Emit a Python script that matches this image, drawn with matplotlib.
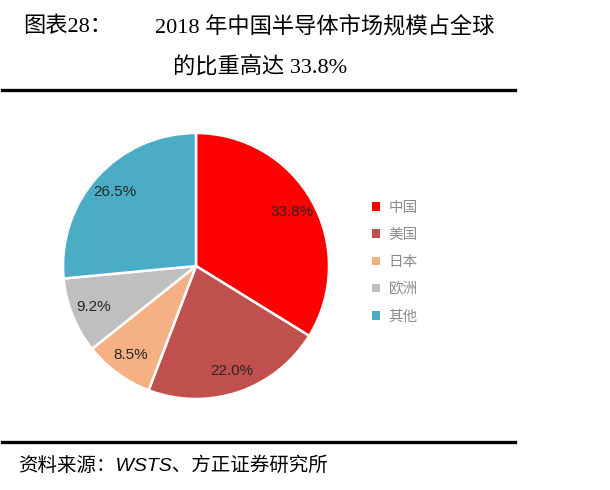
import matplotlib
matplotlib.use("Agg")
import matplotlib.pyplot as plt
from matplotlib.lines import Line2D
from matplotlib.patches import Patch

regions = ["中国", "美国", "日本", "欧洲", "其他"]
shares = [33.8, 22.0, 8.5, 9.2, 26.5]
colors = ["#FF0000", "#C0504D", "#F5B183", "#BFBFBF", "#4BACC6"]

title_line1_head = "图表28："
title_line1 = "2018 年中国半导体市场规模占全球"
title_line2 = "的比重高达 33.8%"
source_text = "资料来源：WSTS、方正证券研究所"

serif_cjk = ["Liberation Serif", "Noto Sans CJK SC"]
sans_cjk = ["Liberation Sans", "Noto Sans CJK SC"]

fig = plt.figure(figsize=(6.1, 4.9), dpi=100)
W, H = 610, 490

# title block
fig.text(23 / W, 1 - 27 / H, title_line1_head, family=serif_cjk, fontsize=16,
         va="center", ha="left")
fig.text(155 / W, 1 - 27 / H, title_line1, family=serif_cjk, fontsize=16,
         va="center", ha="left")
fig.text(173 / W, 1 - 67 / H, title_line2, family=serif_cjk, fontsize=16,
         va="center", ha="left")
fig.add_artist(Line2D([2 / W, 515 / W], [1 - 90 / H, 1 - 90 / H], color="black",
                      linewidth=2.4, transform=fig.transFigure))
fig.add_artist(Line2D([2 / W, 515 / W], [1 - 442 / H, 1 - 442 / H], color="black",
                      linewidth=2.4, transform=fig.transFigure))
fig.text(18 / W, 1 - 466 / H, source_text, family=sans_cjk, fontsize=14,
         va="center", ha="left", style="italic")

# pie
ax = fig.add_axes([63 / W, (490 - 266 - 133) / H, 266 / W, 266 / H])
wedges, texts, autotexts = ax.pie(
    shares, colors=colors, startangle=90, counterclock=False,
    autopct="%.1f%%", pctdistance=0.83,
    wedgeprops=dict(edgecolor="white", linewidth=1.8),
    textprops=dict(family=sans_cjk, fontsize=11, color="#262626"))
ax.set_aspect("equal")
ax.set_xlim(-1, 1)
ax.set_ylim(-1, 1)

handles = [Patch(facecolor=c, edgecolor="none") for c in colors]
leg = fig.legend(handles, regions, loc="upper left",
                 bbox_to_anchor=(366 / W, 1 - 195 / H), frameon=False,
                 prop=dict(family=sans_cjk, size=10.5), labelcolor="#8C8C8C",
                 handlelength=0.55, handleheight=0.55, handletextpad=0.6,
                 labelspacing=0.9, borderaxespad=0)

fig.savefig("out.png", dpi=100, facecolor="white")
